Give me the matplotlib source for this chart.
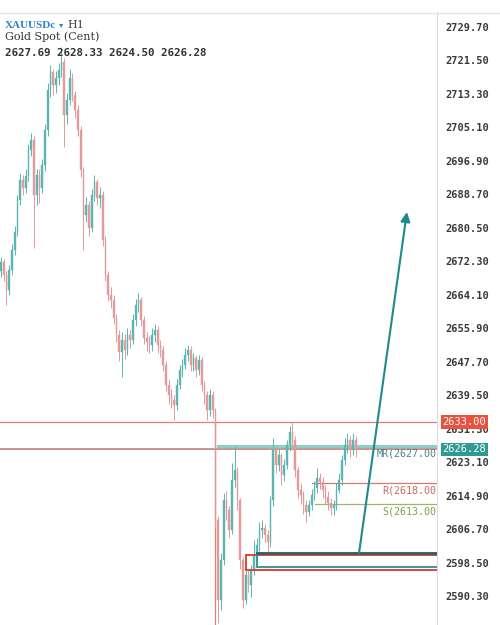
import matplotlib
matplotlib.use("Agg")
import matplotlib.pyplot as plt
from matplotlib.patches import Rectangle, FancyArrowPatch
from matplotlib.lines import Line2D

# ---- data (H1 candles, XAUUSDc) ----
closes = [2672.2, 2669.0, 2665.3, 2670.2, 2675.1, 2679.5, 2687.3, 2692.2, 2690.3, 2693.2,
          2699.6, 2702.0, 2688.6, 2693.5, 2690.3, 2695.9, 2704.5, 2714.3, 2718.7, 2715.5,
          2717.2, 2719.2, 2721.1, 2708.2, 2711.8, 2717.2, 2713.1, 2709.4, 2704.5, 2694.7,
          2683.7, 2686.1, 2680.5, 2688.6, 2691.8, 2687.8, 2688.6, 2677.6, 2669.0, 2664.1,
          2662.9, 2658.5, 2654.3, 2650.1, 2653.1, 2650.6, 2654.3, 2653.1, 2658.0, 2661.6,
          2662.9, 2658.0, 2653.6, 2652.6, 2651.9, 2654.3, 2655.5, 2651.9, 2650.6, 2647.0,
          2642.1, 2639.6, 2638.4, 2637.2, 2642.1, 2645.7, 2647.0, 2649.4, 2650.6, 2647.0,
          2648.7, 2645.7, 2648.2, 2642.1, 2639.6, 2635.9, 2639.6, 2635.9, 2609.0, 2589.4,
          2599.2, 2613.9, 2611.5, 2606.6, 2618.8, 2621.3, 2613.9, 2599.2, 2589.4, 2595.5,
          2593.1, 2596.8, 2600.5, 2602.9, 2606.6, 2607.1, 2605.3, 2603.6, 2613.9, 2626.1,
          2622.5, 2624.9, 2620.0, 2622.5, 2627.4, 2630.6, 2628.6, 2621.3, 2616.4, 2615.1,
          2612.7, 2611.0, 2612.7, 2615.1, 2616.8, 2619.3, 2618.3, 2616.4, 2614.6, 2613.2,
          2611.9, 2612.7, 2616.4, 2618.8, 2623.7, 2627.4, 2628.6, 2626.1, 2628.6, 2626.28]
first_open = 2670.0
highs = [2673.5, 2673.0, 2670.0, 2671.5, 2676.5, 2681.0, 2688.5, 2694.0, 2693.5, 2695.0,
         2701.0, 2703.8, 2703.0, 2695.0, 2695.0, 2697.5, 2706.0, 2716.0, 2720.4, 2719.5,
         2719.0, 2721.0, 2724.8, 2722.0, 2713.5, 2719.3, 2718.5, 2714.0, 2710.5, 2705.5,
         2695.5, 2688.0, 2687.0, 2690.0, 2693.5, 2692.5, 2690.5, 2689.5, 2678.5, 2670.0,
         2666.0, 2664.0, 2659.5, 2655.5, 2655.0, 2654.5, 2656.0, 2655.5, 2659.5, 2663.0,
         2664.6, 2663.5, 2659.0, 2655.0, 2654.0, 2656.0, 2657.0, 2656.5, 2653.0, 2651.5,
         2648.0, 2643.5, 2641.0, 2639.5, 2643.5, 2647.0, 2648.5, 2651.0, 2651.9, 2651.5,
         2650.0, 2649.5, 2649.5, 2649.0, 2643.0, 2640.5, 2641.0, 2640.5, 2636.5, 2610.0,
         2601.0, 2615.5, 2616.0, 2612.5, 2623.0, 2627.0, 2622.0, 2614.5, 2600.0, 2597.0,
         2597.0, 2598.0, 2604.0, 2604.5, 2608.5, 2609.0, 2608.0, 2606.5, 2615.0, 2629.0,
         2627.0, 2626.5, 2625.5, 2624.0, 2628.5, 2632.0, 2633.0, 2629.5, 2622.0, 2618.0,
         2616.0, 2614.0, 2614.0, 2616.5, 2618.5, 2621.7, 2620.5, 2619.5, 2617.5, 2616.0,
         2614.5, 2614.0, 2618.0, 2620.5, 2625.0, 2629.0, 2630.2, 2629.5, 2630.3, 2629.5]
lows = [2668.5, 2667.5, 2661.6, 2664.0, 2669.0, 2674.0, 2678.5, 2686.0, 2688.5, 2689.0,
        2692.0, 2698.0, 2675.6, 2686.0, 2686.5, 2689.0, 2694.5, 2703.0, 2712.5, 2713.0,
        2713.5, 2715.5, 2717.5, 2700.3, 2706.0, 2710.5, 2711.5, 2707.5, 2703.0, 2693.0,
        2675.1, 2682.0, 2678.5, 2679.5, 2687.0, 2686.0, 2685.5, 2676.0, 2667.5, 2662.5,
        2661.0, 2657.0, 2652.5, 2648.0, 2644.0, 2648.5, 2649.5, 2651.0, 2652.0, 2656.5,
        2660.0, 2656.5, 2652.0, 2650.5, 2650.0, 2650.5, 2652.5, 2650.0, 2649.0, 2645.5,
        2640.5, 2637.5, 2636.5, 2633.5, 2636.0, 2641.0, 2644.0, 2646.0, 2648.0, 2645.5,
        2645.5, 2644.0, 2644.5, 2640.5, 2637.5, 2633.5, 2634.5, 2634.0, 2607.0, 2583.8,
        2587.0, 2598.0, 2609.0, 2604.5, 2605.5, 2617.0, 2611.5, 2597.0, 2587.5, 2588.5,
        2591.5, 2590.2, 2595.5, 2599.0, 2601.5, 2604.5, 2603.5, 2601.0, 2602.5, 2612.5,
        2620.5, 2621.0, 2617.5, 2618.5, 2621.5, 2626.0, 2626.5, 2619.5, 2614.5, 2613.0,
        2610.5, 2608.5, 2610.0, 2611.5, 2614.0, 2615.5, 2616.5, 2614.5, 2613.0, 2611.5,
        2610.2, 2610.2, 2611.5, 2615.5, 2617.5, 2622.5, 2625.5, 2624.5, 2625.0, 2624.5]
opens = [first_open] + closes[:-1]

y_ticks = [2590.30, 2598.50, 2606.70, 2614.90, 2623.10, 2631.30, 2639.50, 2647.70,
           2655.90, 2664.10, 2672.30, 2680.50, 2688.70, 2696.90, 2705.10, 2713.30,
           2721.50, 2729.70]

resistance_top = 2633.00
last_price = 2626.28
mr_level = 2627.00
r_level = 2618.00
s_level = 2613.00
teal_zone = (2597.5, 2600.9)
red_zone = (2596.8, 2600.4)
arrow_start = (130.2, 2600.9)
arrow_end = (147.6, 2684.4)

# ---- figure ----
fig = plt.figure(figsize=(5, 6.25), dpi=100)
ax = fig.add_axes([0.0, 0.0, 0.874, 1 - 12 / 625])
ax.set_xlim(-0.36, 158.55)
ax.set_ylim(2583.3, 2733.37)

bull = "#5cb5b0"
bear = "#e39a9a"
n = len(closes)
xs = list(range(n))
for i in xs:
    o, c, h, l = opens[i], closes[i], highs[i], lows[i]
    col = bull if c >= o else bear
    ax.vlines(i, l, h, color=col, lw=0.7, zorder=3)
    bot = min(o, c)
    hgt = max(abs(c - o), 0.35)
    ax.bar(i, hgt, bottom=bot, width=0.6, color=col, edgecolor=col, lw=0.3, zorder=3)

# horizontal levels
ax.axhline(resistance_top, color="#e0806e", lw=0.9, zorder=2)
ax.axhline(last_price, color="#b9a0a0", lw=1.4, zorder=2)
ax.axhline(last_price + 0.2, color="#d98c80", lw=0.6, zorder=2)
ax.plot([78.9, 158.6], [mr_level, mr_level], color="#8fcfca", lw=2.2, zorder=2)
ax.vlines(77.8, 2583.3, resistance_top, color="#e0806e", lw=0.9, zorder=2)
ax.plot([113.1, 158.6], [r_level, r_level], color="#d9776a", lw=0.9, zorder=2)
ax.plot([114.2, 158.6], [s_level, s_level], color="#9ab86c", lw=0.9, zorder=2)

mono = "DejaVu Sans Mono"
ax.text(158.4, mr_level - 0.6, "MR(2627.00", ha="right", va="top", fontsize=7.2,
        family=mono, color="#4d8585", zorder=5)
ax.text(158.4, r_level - 0.6, "R(2618.00", ha="right", va="top", fontsize=7.2,
        family=mono, color="#c66a5c", zorder=5)
ax.text(158.4, s_level - 0.6, "S(2613.00", ha="right", va="top", fontsize=7.2,
        family=mono, color="#7f9e50", zorder=5)

# zones
ax.add_patch(Rectangle((89.1, red_zone[0]), 70, red_zone[1] - red_zone[0],
                       fill=False, edgecolor="#d8453a", lw=1.4, zorder=4))
ax.add_patch(Rectangle((93.1, teal_zone[0]), 70, teal_zone[1] - teal_zone[0],
                       fill=False, edgecolor="#2f8f8c", lw=1.3, zorder=4))
ax.plot([93.1, 158.6], [teal_zone[1], teal_zone[1]], color="#2d5f5f", lw=1.8, zorder=4)

# arrow
ax.add_patch(FancyArrowPatch(arrow_start, arrow_end, arrowstyle="-|>", mutation_scale=14,
                             color="#1e8a8a", lw=1.5, zorder=6, shrinkA=0, shrinkB=0))

# axes styling
for s in ["top", "left", "bottom"]:
    ax.spines[s].set_visible(False)
ax.spines["right"].set_color("#dddddd")
ax.spines["right"].set_linewidth(0.8)
ax.set_xticks([])
ax.yaxis.tick_right()
ax.set_yticks(y_ticks)
ax.set_yticklabels([f"{v:.2f}" for v in y_ticks], family=mono, fontsize=7.5,
                   color="#3a3a3a", fontweight="bold")
ax.tick_params(axis="y", length=0, pad=6)

# price labels on the scale
tr = ax.get_yaxis_transform()
ax.text(1.012, resistance_top, "2633.00", transform=tr, ha="left", va="center",
        fontsize=7.5, family=mono, color="white", zorder=10, clip_on=False,
        bbox=dict(boxstyle="square,pad=0.15", facecolor="#e8523f", edgecolor="none"))
ax.text(1.012, last_price, "2626.28", transform=tr, ha="left", va="center",
        fontsize=7.5, family=mono, color="white", zorder=10, clip_on=False,
        bbox=dict(boxstyle="square,pad=0.15", facecolor="#2f9a94", edgecolor="none"))

# header texts
fig.add_artist(Line2D([0, 1], [1 - 12.5 / 625] * 2, color="#e4e4e4", lw=1.0))
t1 = fig.text(5 / 500, 1 - 25 / 625, "XAUUSDc", fontsize=8, family="Liberation Serif",
              color="#2f7fcf", fontweight="bold", va="center")
fig.canvas.draw()
r = fig.canvas.get_renderer()
x_end = t1.get_window_extent(r).x1 / fig.bbox.width
fig.text(x_end + 3 / 500, 1 - 25 / 625, "\u25be", fontsize=6, family="DejaVu Sans",
         color="#2f7fcf", va="center")
fig.text(x_end + 11 / 500, 1 - 25 / 625, "H1", fontsize=8, family="DejaVu Serif",
         color="#444444", va="center")
fig.text(5 / 500, 1 - 37 / 625, "Gold Spot (Cent)", fontsize=8, family="DejaVu Serif",
         color="#333333", va="center")
fig.text(5 / 500, 1 - 53 / 625, "2627.69 2628.33 2624.50 2626.28", fontsize=7.8,
         family=mono, color="#333333", fontweight="bold", va="center")

fig.savefig("out.png", dpi=100, facecolor="white")
